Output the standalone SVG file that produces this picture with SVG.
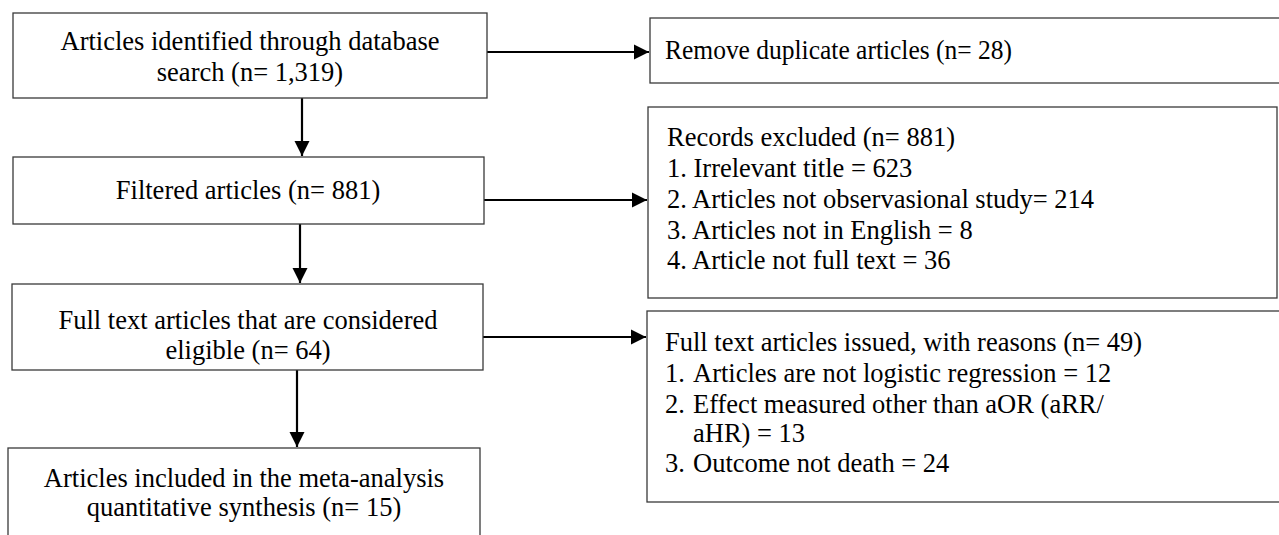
<svg xmlns="http://www.w3.org/2000/svg" width="1279" height="535" viewBox="0 0 1279 535">
<style>
  .box { fill: #ffffff; stroke: #3a3a3a; stroke-width: 1.3; }
  .t { font-family: "Liberation Serif", "Times New Roman", serif; font-size: 26.5px; fill: #000; }
  .c { text-anchor: middle; }
  .edge { stroke: #000; stroke-width: 2.2; fill: none; marker-end: url(#ah); }
</style>
<defs>
  <marker id="ah" viewBox="0 0 10 10" refX="10" refY="5" markerWidth="7" markerHeight="7" markerUnits="strokeWidth" orient="auto">
    <path d="M0,0 L10,5 L0,10 Z" fill="#000"/>
  </marker>
</defs>
<rect width="1279" height="535" fill="#fff"/>
<g id="connectors">
  <line class="edge" x1="487" y1="52" x2="649" y2="52"/>
  <line class="edge" x1="302" y1="98" x2="302" y2="156"/>
  <line class="edge" x1="484" y1="200" x2="647" y2="200"/>
  <line class="edge" x1="300" y1="224" x2="300" y2="283"/>
  <line class="edge" x1="483" y1="337" x2="646" y2="337"/>
  <line class="edge" x1="297" y1="370" x2="297" y2="447"/>
</g>
<g id="n1">
  <rect class="box" x="13" y="13" width="474" height="85"/>
  <text class="t c" x="250" y="50">Articles identified through database</text>
  <text class="t c" x="250" y="81">search (n= 1,319)</text>
</g>
<g id="n2">
  <rect class="box" x="650" y="18" width="640" height="65"/>
  <text class="t" x="665" y="59" textLength="347" lengthAdjust="spacingAndGlyphs">Remove duplicate articles (n= 28)</text>
</g>
<g id="n3">
  <rect class="box" x="13" y="157" width="471" height="67"/>
  <text class="t c" x="248" y="199">Filtered articles (n= 881)</text>
</g>
<g id="n4">
  <rect class="box" x="648" y="107" width="629" height="191"/>
  <text class="t" x="667" y="146">Records excluded (n= 881)</text>
  <text class="t" x="667" y="177">1. Irrelevant title = 623</text>
  <text class="t" x="667" y="208">2. Articles not observasional study= 214</text>
  <text class="t" x="667" y="239">3. Articles not in English = 8</text>
  <text class="t" x="667" y="269">4. Article not full text = 36</text>
</g>
<g id="n5">
  <rect class="box" x="12" y="284" width="471" height="86"/>
  <text class="t c" x="248" y="329">Full text articles that are considered</text>
  <text class="t c" x="248" y="359">eligible (n= 64)</text>
</g>
<g id="n6">
  <rect class="box" x="647" y="311" width="640" height="191"/>
  <text class="t" x="665" y="351">Full text articles issued, with reasons (n= 49)</text>
  <text class="t" x="665" y="382">1.</text>
  <text class="t" x="693" y="382">Articles are not logistic regression = 12</text>
  <text class="t" x="665" y="413">2.</text>
  <text class="t" x="693" y="413">Effect measured other than aOR (aRR/</text>
  <text class="t" x="693" y="442">aHR) = 13</text>
  <text class="t" x="665" y="472">3.</text>
  <text class="t" x="693" y="472">Outcome not death = 24</text>
</g>
<g id="n7">
  <rect class="box" x="8" y="448" width="472" height="100"/>
  <text class="t c" x="244" y="487">Articles included in the meta-analysis</text>
  <text class="t c" x="244" y="516">quantitative synthesis (n= 15)</text>
</g>
</svg>
